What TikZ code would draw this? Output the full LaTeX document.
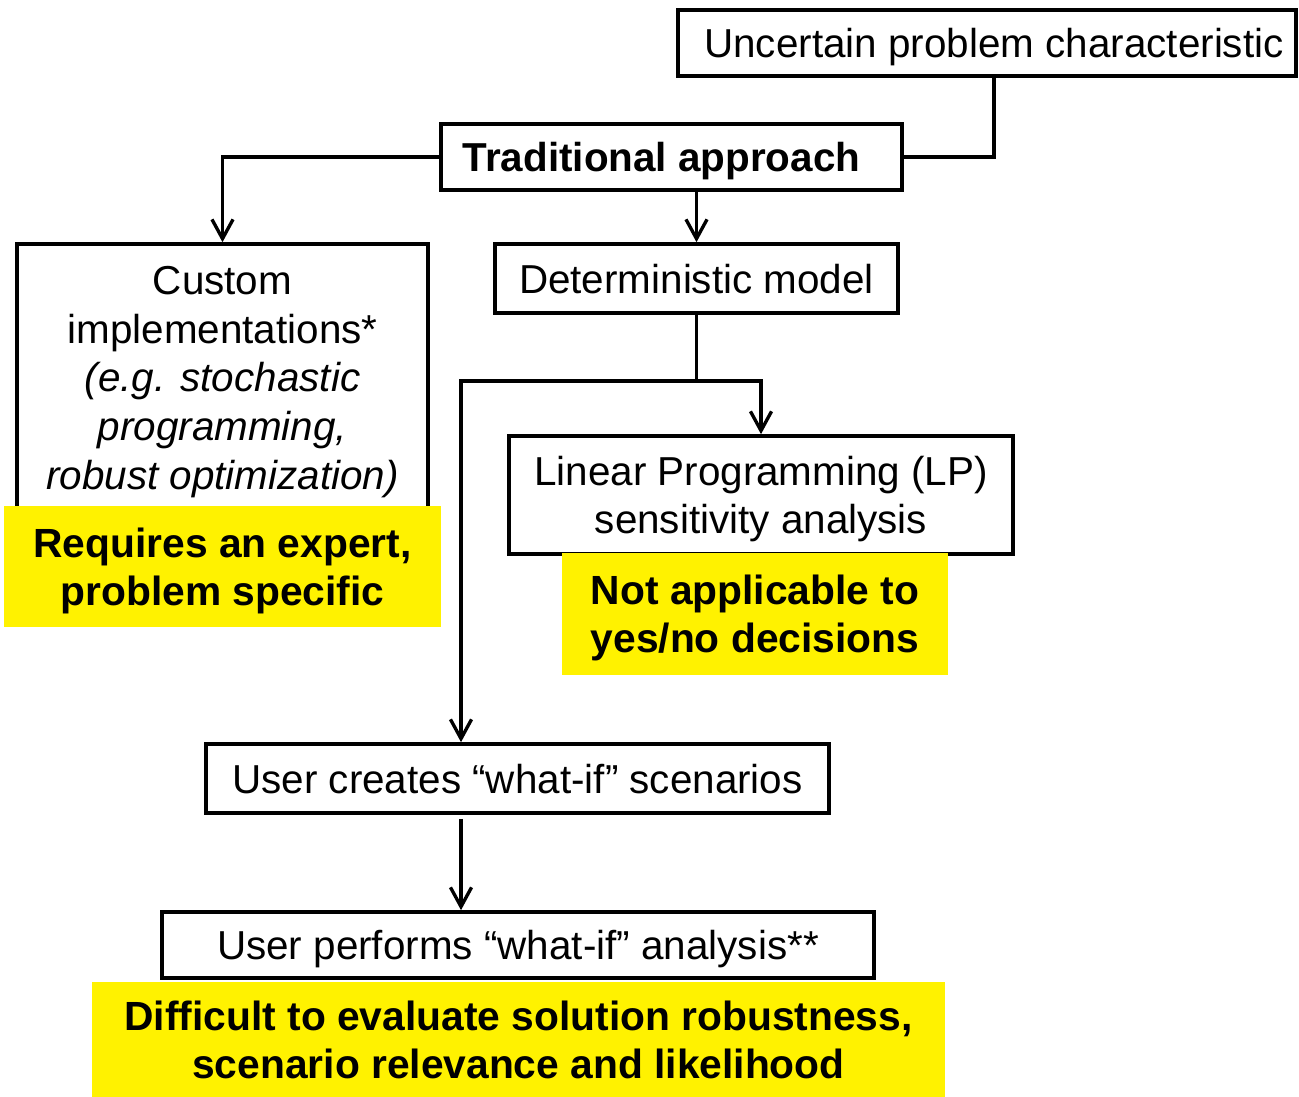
\documentclass[tikz,border=0pt]{standalone}
\usepackage{fontspec}
\setmainfont{Liberation Sans}
\usetikzlibrary{arrows.meta,calc}
\begin{document}
\begin{tikzpicture}[x=0.02cm,y=-0.02cm,
  box/.style={draw=black,line width=2.1pt,fill=white,inner sep=0pt,align=center,
    font=\fontsize{23}{27.7}\selectfont},
  note/.style={fill=yellow,inner sep=0pt,align=center,text depth=0pt,
    font=\fontsize{23.2}{27.5}\selectfont\bfseries},
  low/.style={text depth=0pt},
  conn/.style={line width=1.9pt},
  arr/.style={conn,-{Straight Barb[length=11pt,width=12pt]}}]
\useasboundingbox (0,0) rectangle (1299,1097);

\node[box,low,minimum width=12.36cm,minimum height=1.32cm] (unc) at (987,43) {\hspace{0.28cm}Uncertain problem characteristic};
\node[box,low,minimum width=9.22cm,minimum height=1.32cm] (trad) at (671.5,157) {\bfseries Traditional approach\hspace{0.4cm}};
\node[box,minimum width=8.22cm,minimum height=5.52cm] (cust) at (222.5,382) {Custom\\implementations*\\\itshape (e.g. stochastic\\\itshape programming,\\\itshape robust optimization)};
\node[box,low,minimum width=8.06cm,minimum height=1.38cm] (det) at (696.5,278.5) {Deterministic model};
\node[box,low,minimum width=10.08cm,minimum height=2.36cm] (lp) at (761,495) {Linear Programming (LP)\\sensitivity analysis};
\node[note,minimum width=8.74cm,minimum height=2.42cm] (n1) at (222.5,566.5) {Requires an expert,\\problem specific\hspace{0.2cm}};
\node[note,minimum width=7.72cm,minimum height=2.44cm] (n2) at (755,614) {Not applicable to\\yes/no decisions};
\node[box,low,minimum width=12.46cm,minimum height=1.38cm] (uwc) at (517.5,778.5) {User creates “what-if” scenarios};
\node[box,low,minimum width=14.24cm,minimum height=1.32cm] (uwp) at (518,945) {User performs “what-if” analysis**};
\node[note,minimum width=17.06cm,minimum height=2.3cm] (n3) at (518.5,1039.5) {Difficult to evaluate solution robustness,\\scenario relevance and likelihood};

\coordinate (a) at ($(unc.south)+(7,0)$);
\draw[conn] (a) |- (trad.east);
\draw[arr] (trad.west) -| (cust.north);
\draw[arr] (trad.south -| det.north) -- (det.north);
\coordinate (j) at ($(det.south)+(0,66)$);
\draw[conn] (det.south) -- (j);
\draw[arr] (j) -| (lp.north);
\coordinate (b) at ($(uwc.north)+(-56.5,0)$);
\draw[arr] (j) -| (b);
\coordinate (c) at ($(uwc.south)+(-56.5,4)$);
\draw[arr] (c) -- (c |- uwp.north);
\end{tikzpicture}
\end{document}
